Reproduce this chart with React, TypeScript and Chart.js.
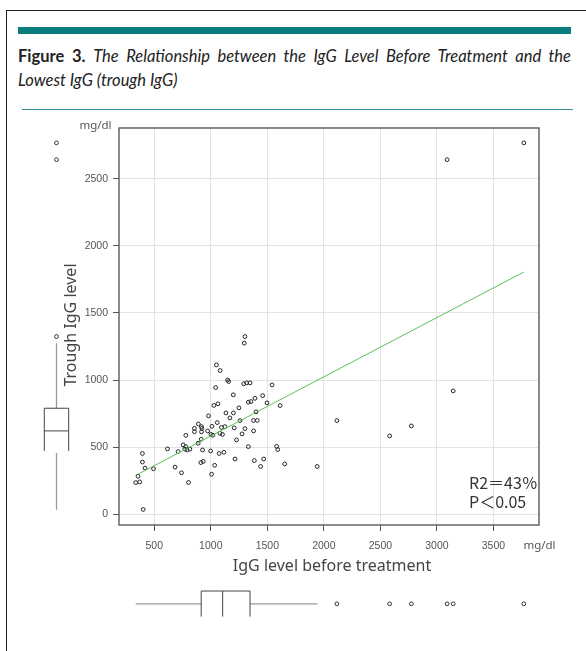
import React, { useEffect, useRef } from "react";
import { Chart, registerables } from "chart.js";
Chart.register(...registerables);

// IgG level before treatment (mg/dl)
const baselineIgG = [
  336, 371, 356, 395, 395, 418, 493, 402, 617, 684, 741, 803, 711, 755, 779, 770, 791, 815, 779, 855,
  855, 890, 917, 921, 918, 972, 915, 888, 927, 912, 933, 980, 1010, 1001, 1019, 998, 1034, 1007, 1027, 1063,
  1043, 1050, 1083, 1057, 1081, 1103, 1094, 1125, 1134, 1074, 1116, 1149, 1158, 1169, 1199, 1200, 1207, 1214, 1227, 1249,
  1258, 1276, 1302, 1332, 1291, 1317, 1347, 1302, 1296, 1332, 1355, 1391, 1459, 1497, 1542, 1613, 1400, 1378, 1411, 1378,
  1385, 1441, 1468, 1583, 1592, 1654, 1941, 2115, 2582, 2774, 3144, 3090, 3769,
];
// Trough IgG level (mg/dl)
const troughIgG = [
  236, 241, 283, 453, 389, 344, 339, 36, 487, 351, 309, 237, 467, 517, 504, 485, 479, 485, 588, 640,
  615, 673, 653, 640, 614, 621, 559, 529, 479, 385, 394, 733, 655, 595, 589, 472, 365, 298, 811, 823,
  944, 1113, 1071, 683, 603, 595, 647, 653, 755, 453, 462, 1001, 989, 718, 890, 755, 644, 412, 554, 793,
  698, 599, 638, 504, 972, 979, 979, 1324, 1275, 835, 840, 864, 884, 830, 964, 810, 763, 699, 699, 621,
  400, 356, 412, 506, 482, 375, 356, 698, 584, 658, 919, 2642, 2767,
];

const xTicks = [500, 1000, 1500, 2000, 2500, 3000, 3500];
const yTicks = [0, 500, 1000, 1500, 2000, 2500];

// regression line: trough = intercept + slope * before
const fitX = [356, 3769];
const fitIntercept = 141;
const fitSlope = 0.4415;

// box plots: [lower whisker, Q1, median, Q3, upper whisker]
const troughBox = [34, 472, 621, 790, 1275];
const troughOutliers = [1324, 2642, 2767];
const baselineBox = [336, 915, 1105, 1347, 1943];
const baselineOutliers = [2115, 2582, 2774, 3090, 3144, 3769];

const annotationLines = ["R2＝43％", "P＜0.05"];
const xTitle = "IgG level before treatment";
const yTitle = "Trough IgG level";
const unitLabel = "mg/dl";

const overlayPlugin = {
  id: "overlay",
  afterDraw(chart: any) {
    const { ctx, chartArea: ca } = chart;
    const xs = chart.scales.x;
    const ys = chart.scales.y;
    ctx.save();

    // plot frame
    ctx.strokeStyle = "#5a5a5a";
    ctx.lineWidth = 1.4;
    ctx.strokeRect(ca.left, ca.top, ca.right - ca.left, ca.bottom - ca.top);

    const circle = (x: number, y: number) => {
      ctx.beginPath();
      ctx.arc(x, y, 1.9, 0, Math.PI * 2);
      ctx.strokeStyle = "#333";
      ctx.lineWidth = 1;
      ctx.stroke();
    };

    // vertical box plot (trough IgG)
    const bx = 56.5;
    const bw = 12.2;
    const [tMin, tQ1, tMed, tQ3, tMax] = troughBox.map((v) => ys.getPixelForValue(v));
    ctx.strokeStyle = "#999";
    ctx.lineWidth = 1.3;
    ctx.beginPath();
    ctx.moveTo(bx, tMax);
    ctx.lineTo(bx, tQ3);
    ctx.moveTo(bx, tQ1 + 2);
    ctx.lineTo(bx, tMin);
    ctx.stroke();
    ctx.strokeStyle = "#444";
    ctx.lineWidth = 1;
    ctx.beginPath();
    ctx.moveTo(bx - bw, tQ1);
    ctx.lineTo(bx - bw, tQ3);
    ctx.lineTo(bx + bw, tQ3);
    ctx.lineTo(bx + bw, tQ1);
    ctx.moveTo(bx - bw, tMed);
    ctx.lineTo(bx + bw, tMed);
    ctx.stroke();
    troughOutliers.forEach((v) => circle(bx, ys.getPixelForValue(v)));

    // horizontal box plot (baseline IgG)
    const by = 603.8;
    const bh = 12.8;
    const [bMin, bQ1, bMed, bQ3, bMax] = baselineBox.map((v) => xs.getPixelForValue(v));
    ctx.strokeStyle = "#999";
    ctx.lineWidth = 1.3;
    ctx.beginPath();
    ctx.moveTo(bMin, by);
    ctx.lineTo(bQ1, by);
    ctx.moveTo(bQ3, by);
    ctx.lineTo(bMax, by);
    ctx.stroke();
    ctx.strokeStyle = "#444";
    ctx.lineWidth = 1;
    ctx.beginPath();
    ctx.moveTo(bQ1, by + bh);
    ctx.lineTo(bQ1, by - bh);
    ctx.lineTo(bQ3, by - bh);
    ctx.lineTo(bQ3, by + bh);
    ctx.moveTo(bMed, by - bh);
    ctx.lineTo(bMed, by + bh);
    ctx.stroke();
    baselineOutliers.forEach((v) => circle(xs.getPixelForValue(v), by));

    // units
    ctx.fillStyle = "#555";
    ctx.font = "11.5px 'Noto Sans'";
    ctx.textAlign = "center";
    ctx.textBaseline = "middle";
    ctx.fillText(unitLabel, 95.5, 126);
    ctx.fillText(unitLabel, 539.5, 545.7);

    // axis titles
    ctx.fillStyle = "#444";
    ctx.font = "16px 'Noto Sans'";
    ctx.fillText(xTitle, (ca.left + ca.right) / 2 + 3, 566);
    ctx.save();
    ctx.translate(71.5, 325);
    ctx.rotate(-Math.PI / 2);
    ctx.fillText(yTitle, 0, 0);
    ctx.restore();

    // annotation
    ctx.fillStyle = "#333";
    ctx.font = "16px 'Noto Sans CJK JP'";
    ctx.textAlign = "left";
    ctx.fillText(annotationLines[0], 469, 482.7);
    ctx.fillText(annotationLines[1], 469, 501.7);

    ctx.restore();
  },
};

export default function App() {
  const ref = useRef<HTMLCanvasElement | null>(null);

  useEffect(() => {
    if (!ref.current) return;
    const points = baselineIgG.map((x, i) => ({ x, y: troughIgG[i] }));
    const fitPoints = fitX.map((x) => ({ x, y: fitIntercept + fitSlope * x }));
    const tickFont = { family: "'Liberation Sans', Arial, sans-serif", size: 10.5 };
    const plain = (v: any) => String(v);
    const chart = new Chart(ref.current, {
      type: "scatter",
      data: {
        datasets: [
          {
            data: fitPoints,
            showLine: true,
            borderColor: "#5cc05c",
            borderWidth: 1,
            pointRadius: 0,
            fill: false,
          },
          {
            data: points,
            pointRadius: 1.9,
            pointBorderWidth: 1,
            pointBorderColor: "#222",
            pointBackgroundColor: "rgba(255,255,255,0)",
            showLine: false,
          },
        ],
      },
      options: {
        responsive: false,
        animation: false,
        devicePixelRatio: 1,
        layout: { padding: { left: 79, right: 47, top: 128, bottom: 96 } },
        plugins: { legend: { display: false }, tooltip: { enabled: false }, title: { display: false } },
        scales: {
          x: {
            type: "linear",
            min: 188,
            max: 3903,
            afterBuildTicks: (s: any) => {
              s.ticks = xTicks.map((v) => ({ value: v }));
            },
            afterFit: (s: any) => {
              s.height = 30;
            },
            grid: { color: "#e2e2e2", lineWidth: 1, tickColor: "#555", tickLength: 6, drawTicks: true },
            border: { display: false },
            ticks: { color: "#555", font: tickFont, padding: 9, maxRotation: 0, autoSkip: false, callback: plain },
          },
          y: {
            type: "linear",
            min: -80,
            max: 2878,
            afterBuildTicks: (s: any) => {
              s.ticks = yTicks.map((v) => ({ value: v }));
            },
            afterFit: (s: any) => {
              s.width = 40;
            },
            grid: { color: "#e2e2e2", lineWidth: 1, tickColor: "#555", tickLength: 6, drawTicks: true },
            border: { display: false },
            ticks: { color: "#555", font: tickFont, padding: 5, autoSkip: false, callback: plain },
          },
        },
      },
      plugins: [overlayPlugin],
    } as any);
    return () => chart.destroy();
  }, []);

  return (
    <div
      style={{
        position: "fixed",
        left: 0,
        top: 0,
        width: 586,
        height: 651,
        overflow: "hidden",
        background: "#fff",
      }}
    >
      <div
        style={{
          position: "absolute",
          left: 6,
          top: 10,
          width: 800,
          height: 900,
          borderLeft: "1.5px solid #222",
          borderTop: "1.5px solid #222",
        }}
      />
      <div style={{ position: "absolute", left: 18, top: 27, width: 553, height: 6.5, background: "#0b7d7e" }} />
      <div
        style={{
          position: "absolute",
          left: 18,
          top: 44,
          width: 553,
          fontFamily: "Lato, 'Open Sans', sans-serif",
          fontSize: 16.5,
          lineHeight: "24px",
          color: "#222",
          textAlign: "justify",
        }}
      >
        <span style={{ fontWeight: 700 }}>Figure 3.</span>{" "}
        <span style={{ fontStyle: "italic" }}>
          The Relationship between the IgG Level Before Treatment and the Lowest IgG (trough IgG)
        </span>
      </div>
      <div style={{ position: "absolute", left: 22, top: 108.5, width: 551, height: 1, background: "#3a8f94" }} />
      <canvas
        ref={ref}
        width={586}
        height={651}
        style={{ position: "absolute", left: 0, top: 0, width: 586, height: 651 }}
      />
    </div>
  );
}
